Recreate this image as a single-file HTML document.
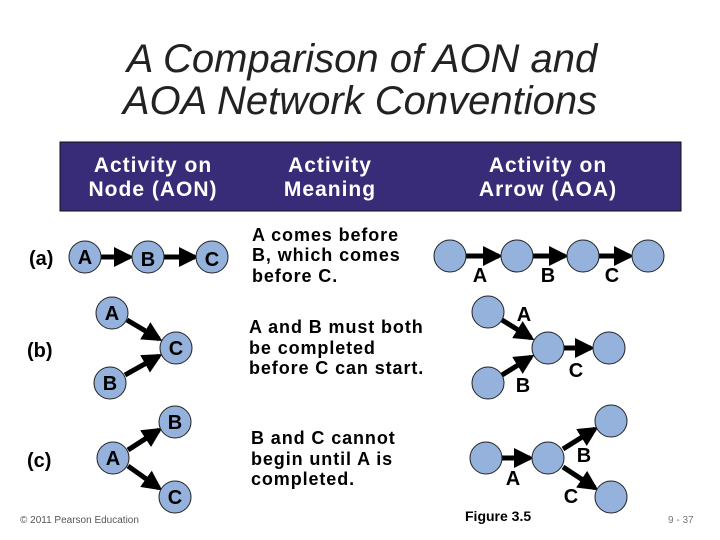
<!DOCTYPE html>
<html><head><meta charset="utf-8"><style>
body{margin:0;background:#fff}
svg{display:block;font-family:"Liberation Sans",Arial,sans-serif}
</style></head><body>
<svg width="720" height="540" viewBox="0 0 720 540">
<defs>
<marker id="ah" markerWidth="4" markerHeight="4" refX="3.2" refY="2" orient="auto" markerUnits="strokeWidth">
<path d="M0,0 L4,2 L0,4 z" fill="#000"/></marker>
</defs>
<g font-style="italic" font-size="40" text-anchor="middle" fill="#222">
<text x="362" y="72">A Comparison of AON and</text>
<text x="360" y="114">AOA Network Conventions</text>
</g>
<rect x="60" y="142" width="621" height="69" fill="#382c78" stroke="#111" stroke-width="1"/>
<g fill="#fff" font-size="21" font-weight="bold" letter-spacing="1" text-anchor="middle">
<text x="153" y="172">Activity on</text><text x="153" y="196">Node (AON)</text>
<text x="330" y="172">Activity</text><text x="330" y="196">Meaning</text>
<text x="548" y="172">Activity on</text><text x="548" y="196">Arrow (AOA)</text>
</g>
<g font-size="20" font-weight="bold" fill="#000">
<text x="29" y="265">(a)</text><text x="27" y="357">(b)</text><text x="27" y="467">(c)</text>
</g>
<g stroke="#000" stroke-width="5" marker-end="url(#ah)">
<line x1="101" y1="257" x2="130" y2="257"/>
<line x1="164" y1="257" x2="195" y2="257"/>
<line x1="127" y1="320" x2="159" y2="339"/>
<line x1="125" y1="375" x2="159" y2="356"/>
<line x1="128" y1="450" x2="159" y2="430"/>
<line x1="128" y1="466" x2="159" y2="488"/>
<line x1="466" y1="256" x2="499" y2="256"/>
<line x1="533" y1="256" x2="565" y2="256"/>
<line x1="599" y1="256" x2="630" y2="256"/>
<line x1="502" y1="320" x2="531" y2="338"/>
<line x1="502" y1="375" x2="531" y2="357"/>
<line x1="564" y1="348" x2="591" y2="348"/>
<line x1="502" y1="458" x2="530" y2="458"/>
<line x1="563" y1="449" x2="595" y2="429"/>
<line x1="563" y1="467" x2="595" y2="488"/>
</g>
<g fill="#94b2dc" stroke="#222" stroke-width="1">
<circle cx="85" cy="257" r="16"/><circle cx="148" cy="257" r="16"/><circle cx="212" cy="257" r="16"/>
<circle cx="112" cy="313" r="16"/><circle cx="176" cy="348" r="16"/><circle cx="110" cy="383" r="16"/>
<circle cx="175" cy="422" r="16"/><circle cx="113" cy="458" r="16"/><circle cx="175" cy="497" r="16"/>
<circle cx="450" cy="256" r="16"/><circle cx="517" cy="256" r="16"/><circle cx="583" cy="256" r="16"/><circle cx="648" cy="256" r="16"/>
<circle cx="488" cy="312" r="16"/><circle cx="548" cy="348" r="16"/><circle cx="609" cy="348" r="16"/><circle cx="488" cy="383" r="16"/>
<circle cx="486" cy="458" r="16"/><circle cx="548" cy="458" r="16"/><circle cx="611" cy="421" r="16"/><circle cx="611" cy="497" r="16"/>
</g>
<g font-size="20" font-weight="bold" text-anchor="middle" fill="#000">
<text x="85" y="264">A</text><text x="148" y="266">B</text><text x="212" y="266">C</text>
<text x="112" y="320">A</text><text x="176" y="355">C</text><text x="110" y="390">B</text>
<text x="175" y="429">B</text><text x="113" y="465">A</text><text x="175" y="504">C</text>
<text x="480" y="282">A</text><text x="548" y="282">B</text><text x="612" y="282">C</text>
<text x="524" y="321">A</text><text x="523" y="392">B</text><text x="576" y="377">C</text>
<text x="513" y="485">A</text><text x="584" y="462">B</text><text x="571" y="503">C</text>
</g>
<g font-size="18" font-weight="bold" letter-spacing="0.9" fill="#000">
<text x="252" y="241">A comes before</text><text x="252" y="261">B, which comes</text><text x="252" y="282">before C.</text>
<text x="249" y="333">A and B must both</text><text x="249" y="354">be completed</text><text x="249" y="374">before C can start.</text>
<text x="251" y="444">B and C cannot</text><text x="251" y="465">begin until A is</text><text x="251" y="485">completed.</text>
</g>
<text x="465" y="521" font-size="14" font-weight="bold">Figure 3.5</text>
<text x="20" y="523" font-size="10" fill="#555">© 2011 Pearson Education</text>
<text x="668" y="523" font-size="10" fill="#777">9 - 37</text>
</svg>
</body></html>
